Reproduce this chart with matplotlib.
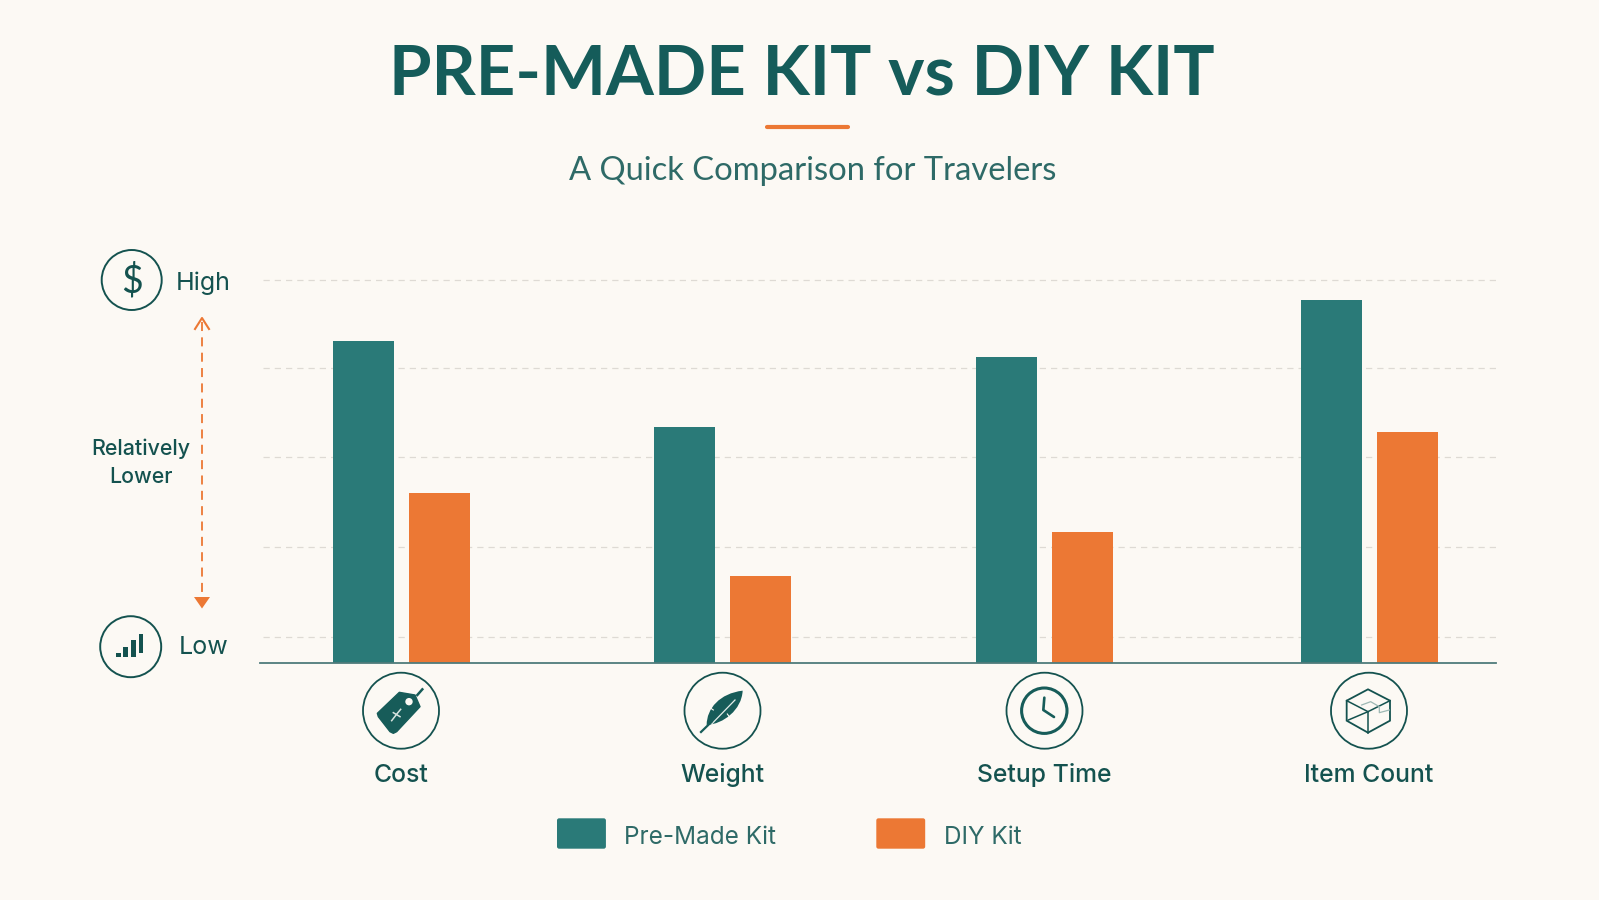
import numpy as np
import matplotlib
matplotlib.use('Agg')
import matplotlib.pyplot as plt
from matplotlib.patches import Circle, FancyBboxPatch, PathPatch, Polygon
from matplotlib.path import Path

# kit scores on a relative 0-100 scale
categories = ['Cost', 'Weight', 'Setup Time', 'Item Count']
premade_values = [84.1, 61.5, 79.8, 94.9]
diy_values = [44.3, 22.6, 34.2, 60.2]
grid_levels = [6.8, 30.3, 53.8, 77.0, 100.0]
series_names = ['Pre-Made Kit', 'DIY Kit']

BG = '#FCF9F4'
TEAL = '#2A7A78'
ORANGE = '#EC7834'
INK = '#14524F'
TITLE = '#155C5A'
LABEL_FONT = ['Inter', 'DejaVu Sans']

W, H = 1599, 900
group_x = [401, 722.5, 1044.5, 1369]
bar_w = 61
bar_off = 38

plt.rcParams['font.family'] = ['Lato', 'DejaVu Sans']

fig = plt.figure(figsize=(W / 100, H / 100), dpi=100, facecolor=BG)

# chart axes, x runs in pixels so the groups can sit where they need to
ax = fig.add_axes([260 / W, 1 - 663 / H, (1496 - 260) / W, (663 - 280) / H])
ax.set_xlim(260, 1496)
ax.set_ylim(0, 100)
ax.axis('off')
ax.hlines(grid_levels, 260, 1497, color='#DEDAD4', lw=0.9, linestyles=(6.6, (5, 4)), clip_on=False, zorder=1)
ax.bar(np.array(group_x) - bar_off, premade_values, bar_w, color=TEAL, zorder=2)
ax.bar(np.array(group_x) + bar_off, diy_values, bar_w, color=ORANGE, zorder=2)
ax.plot([260, 1496], [0, 0], color='#4F7B7B', lw=1.3, clip_on=False, zorder=3)

# overlay for titles, icons and the legend, in pixels from the top left
ov = fig.add_axes([0, 0, 1, 1], facecolor='none')
ov.set_xlim(0, W)
ov.set_ylim(H, 0)
ov.axis('off')

ov.text(802, 69, 'PRE-MADE KIT vs DIY KIT', ha='center', va='center_baseline', fontsize=49.6,
        fontweight='bold', color=TITLE)
ov.plot([767, 848], [126.7, 126.7], color=ORANGE, lw=3, solid_capstyle='round')
ov.text(813, 168, 'A Quick Comparison for Travelers', ha='center', va='center_baseline', fontsize=23.6,
        color='#2E6A67')


def ring(x, y, r, lw=1.4):
    ov.add_patch(Circle((x, y), r, fc='none', ec=INK, lw=lw))


def zoomed(points, x0, y0):
    # icon outlines are sketched at 3x around an origin
    return [(x0 + px / 3, y0 + py / 3) for px, py in points]


# y axis end markers
ring(131.7, 280, 30)
ov.text(132, 281, '$', ha='center', va='center', fontsize=27, color=INK)
ov.text(175.5, 283, 'High', ha='left', va='center', fontsize=18, color=INK, family=LABEL_FONT)
ring(130.7, 646.7, 30.5)
for bx, top, bottom in [(168, 1268, 1282), (190, 1250, 1282), (213, 1230, 1282), (236, 1211, 1270)]:
    ov.add_patch(Polygon(zoomed([(bx, top), (bx + 14, top), (bx + 14, bottom), (bx, bottom)], 60, 230),
                         fc=INK, ec='none'))
ov.text(178.5, 648, 'Low', ha='left', va='center', fontsize=18, color=INK, family=LABEL_FONT)

ov.text(141, 449, 'Relatively', ha='center', va='center', fontsize=15.4, fontweight='medium', color=INK, family=LABEL_FONT)
ov.text(141, 477, 'Lower', ha='center', va='center', fontsize=15.4, fontweight='medium', color=INK, family=LABEL_FONT)

# dashed range arrow, open head on top and solid head below
ov.plot([202, 202], [322, 598], color=ORANGE, lw=1.3, linestyle=(0, (5, 3.5)))
ov.plot([195, 202, 209], [329, 318, 329], color=ORANGE, lw=1.5)
ov.add_patch(Polygon([(194, 597), (210, 597), (202, 608.5)], fc=ORANGE, ec='none'))

# category icons
icon_y = 710.7
icon_r = 38
for x, name in zip(group_x, categories):
    ring(x, icon_y, icon_r, lw=1.3)
    ov.text(x, 775, name, ha='center', va='center', fontsize=17.8, fontweight='medium', color=INK, family=LABEL_FONT)

# price tag
tag = [(112, 190), (178, 127), (225, 135), (240, 170), (170, 245), (160, 250), (150, 245), (115, 200)]
ov.add_patch(Polygon(zoomed(tag, 340, 650), fc='#175C59', ec='#175C59', lw=1, joinstyle='round'))
hx, hy = zoomed([(207, 155)], 340, 650)[0]
ov.add_patch(Circle((hx, hy), 3.7, fc=BG, ec='none'))
ov.plot(*zip(*zoomed([(232, 135), (247, 118)], 340, 650)), color='#175C59', lw=1.8)
ov.plot(*zip(*zoomed([(155, 212), (172, 190), (182, 178)], 340, 650)), color='#D8E4E0', lw=1.1)
ov.plot(*zip(*zoomed([(160, 188), (180, 200)], 340, 650)), color='#D8E4E0', lw=1.1)

# feather, with a couple of nicks along the vane
verts = zoomed([(1208, 122), (1140, 130), (1100, 175), (1100, 225),
                (1150, 222), (1205, 180), (1208, 122), (1208, 122)], 340, 650)
codes = [Path.MOVETO, Path.CURVE4, Path.CURVE4, Path.CURVE4, Path.CURVE4, Path.CURVE4, Path.CURVE4, Path.CLOSEPOLY]
ov.add_patch(PathPatch(Path(verts, codes), fc='#175C59', ec='none'))
ov.plot(*zip(*zoomed([(1115, 222), (1185, 150)], 340, 650)), color='#E6EEEA', lw=0.9)
ov.plot(*zip(*zoomed([(1083, 246), (1115, 215)], 340, 650)), color='#175C59', lw=1.6)
for seg in [[(1108, 172), (1120, 180)], [(1172, 206), (1162, 192)]]:
    ov.plot(*zip(*zoomed(seg, 340, 650)), color=BG, lw=0.8)

# clock
ov.add_patch(Circle((1044.3, icon_y), 22.7, fc='none', ec='#175C59', lw=2.2))
ov.plot(*zip(*zoomed([(253, 143), (250, 180), (282, 201)], 960, 650)), color='#175C59', lw=1.9,
        solid_capstyle='round', solid_joinstyle='round')

# box
hexagon = [(1224, 118), (1290, 152), (1290, 212), (1224, 248), (1160, 212), (1160, 152)]
ov.add_patch(Polygon(zoomed(hexagon, 960, 650), fc='none', ec=INK, lw=1.3))
for seg in [[(1160, 152), (1224, 185), (1290, 152)], [(1224, 185), (1224, 248)], [(1165, 210), (1224, 185)]]:
    ov.plot(*zip(*zoomed(seg, 960, 650)), color=INK, lw=1.1)
ov.plot(*zip(*zoomed([(1205, 165), (1232, 155), (1258, 170), (1258, 188), (1288, 180)], 960, 650)),
        color='#9DB8B4', lw=0.9)

# legend
for x0, colour, tx, name in [(556.7, TEAL, 624.5, series_names[0]), (876, ORANGE, 944, series_names[1])]:
    ov.add_patch(FancyBboxPatch((x0 + 1, 819), 47.5, 29, boxstyle='round,pad=0,rounding_size=1.5',
                                fc=colour, ec=colour, lw=1))
    ov.text(tx, 838, name, ha='left', va='center', fontsize=17.5, color='#2E6A67', family=LABEL_FONT)

fig.savefig('out.png', dpi=100, facecolor=BG)
